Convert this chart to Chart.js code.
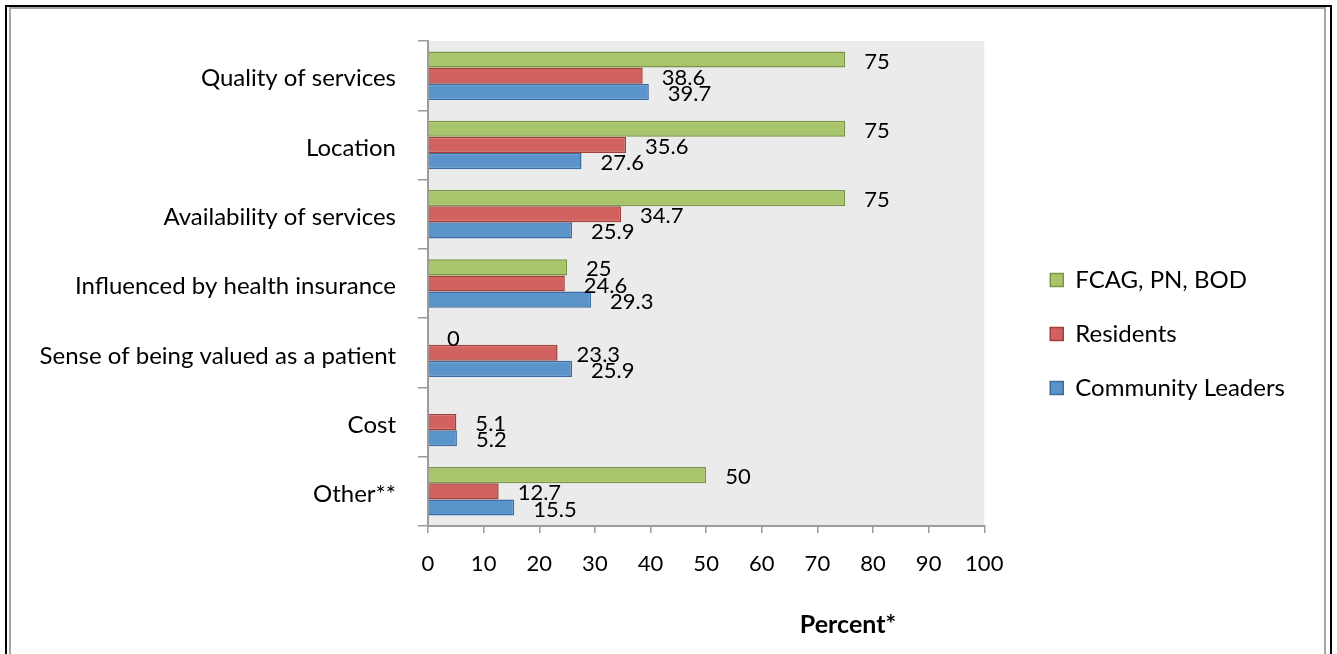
<!DOCTYPE html>
<html>
<head>
<meta charset="utf-8">
<script src="https://cdn.jsdelivr.net/npm/chart.js@4.4.1/dist/chart.umd.min.js"></script>
<style>
html,body{margin:0;padding:0;background:#fff;overflow:hidden}
#wrap{position:relative;width:1337px;height:654px;background:#fff}
#chart{position:absolute;left:0;top:0}
.b{position:absolute;pointer-events:none;box-sizing:border-box}
#outer{left:5px;top:5px;width:1327px;height:720px;border:2px solid #000}
#inner{left:9px;top:7px;width:1317px;height:720px;border:2px solid #a6a6a6}
</style>
</head>
<body>
<div id="wrap">
  <canvas id="chart" width="1337" height="654"></canvas>
  <div class="b" id="outer"></div>
  <div class="b" id="inner"></div>
</div>
<script>
// ---- data ----
const categories = ['Quality of services', 'Location', 'Availability of services', 'Influenced by health insurance', 'Sense of being valued as a patient', 'Cost', 'Other**'];
const seriesNames = ['FCAG, PN, BOD', 'Residents', 'Community Leaders'];
const fcagValues = [75, 75, 75, 25, 0, null, 50];
const residentsValues = [38.6, 35.6, 34.7, 24.6, 23.3, 5.1, 12.7];
const leadersValues = [39.7, 27.6, 25.9, 29.3, 25.9, 5.2, 15.5];
const xMin = 0, xMax = 100, xStep = 10;
const xTitle = 'Percent*';

// ---- styling ----
const FONT = 'Lato';
const FS_NUM = 22;   // tick numbers and value labels
const FS_TXT = 24;   // category labels and legend
const FS_TITLE = 25;
const axisGray = '#9c9c9c';

// legend geometry
const mctx = document.createElement('canvas').getContext('2d');
mctx.font = FS_TXT + 'px ' + FONT;
const longest = Math.max(...seriesNames.map(s => mctx.measureText(s).width));
const LEG_PAD = 30, BOX = 13;
const legendWidth = LEG_PAD + BOX + FS_TXT / 2 + longest + 10;
const legendLeft = 1020;
const padRight = Math.max(0, Math.round(1337 - legendLeft - legendWidth));

const plotBg = {
  id: 'plotBg',
  beforeDraw(chart) {
    const {ctx, chartArea: a} = chart;
    ctx.save();
    ctx.fillStyle = '#ebebeb';
    ctx.fillRect(a.left, a.top, a.right - a.left, a.bottom - a.top);
    ctx.restore();
  }
};

const valueLabels = {
  id: 'valueLabels',
  afterDatasetsDraw(chart) {
    const {ctx} = chart;
    ctx.save();
    ctx.font = FS_NUM + 'px ' + FONT;
    ctx.fillStyle = '#000';
    ctx.textAlign = 'left';
    ctx.textBaseline = 'middle';
    chart.data.datasets.forEach((ds, di) => {
      const meta = chart.getDatasetMeta(di);
      meta.data.forEach((el, i) => {
        const v = ds.data[i];
        if (v === null || v === undefined) return;
        ctx.fillText(String(v), el.x + 19, el.y + 2);
      });
    });
    ctx.restore();
  }
};

const xAxisTitle = {
  id: 'xAxisTitle',
  afterDraw(chart) {
    const {ctx, chartArea: a} = chart;
    ctx.save();
    ctx.font = 'bold ' + FS_TITLE + 'px ' + FONT;
    ctx.fillStyle = '#000';
    ctx.textAlign = 'center';
    ctx.textBaseline = 'middle';
    ctx.fillText(xTitle, a.left + (a.right - a.left) * 0.755, 625);
    ctx.restore();
  }
};

new Chart(document.getElementById('chart'), {
  type: 'bar',
  data: {
    labels: categories,
    datasets: [
      {label: seriesNames[0], data: fcagValues, backgroundColor: '#a8c56b', borderColor: '#7a9642', borderWidth: 1.5},
      {label: seriesNames[1], data: residentsValues, backgroundColor: '#d1625f', borderColor: '#a43e3b', borderWidth: 1.5},
      {label: seriesNames[2], data: leadersValues, backgroundColor: '#5b94cb', borderColor: '#3c6ca3', borderWidth: 1.5}
    ]
  },
  options: {
    indexAxis: 'y',
    responsive: false,
    animation: false,
    devicePixelRatio: 1,
    categoryPercentage: 0.7,
    barPercentage: 1.0,
    layout: {padding: {top: 41, bottom: 27, left: 0, right: padRight}},
    plugins: {
      legend: {
        position: 'right',
        align: 'center',
        maxWidth: 600,
        labels: {
          boxWidth: BOX, boxHeight: BOX, padding: LEG_PAD,
          color: '#000', font: {family: FONT, size: FS_TXT}
        }
      },
      tooltip: {enabled: false}
    },
    scales: {
      x: {
        type: 'linear', min: xMin, max: xMax,
        ticks: {stepSize: xStep, color: '#000', font: {family: FONT, size: FS_NUM}, padding: 18},
        grid: {drawOnChartArea: false, drawTicks: true, tickLength: 7, color: axisGray, lineWidth: 1.5},
        border: {display: true, color: axisGray, width: 2},
        afterFit: s => { s.height = 101; }
      },
      y: {
        type: 'category',
        ticks: {color: '#000', font: {family: FONT, size: FS_TXT}, padding: 22, labelOffset: 3},
        grid: {drawOnChartArea: false, drawTicks: true, tickLength: 10, color: axisGray, lineWidth: 1.5, offset: true},
        border: {display: true, color: axisGray, width: 2},
        afterFit: s => { s.width = 428; }
      },
      gap: {
        type: 'linear', position: 'right', display: true,
        grid: {display: false}, ticks: {display: false}, border: {display: false},
        afterFit: s => { s.width = 36; }
      }
    }
  },
  plugins: [plotBg, valueLabels, xAxisTitle]
});
</script>
</body>
</html>
